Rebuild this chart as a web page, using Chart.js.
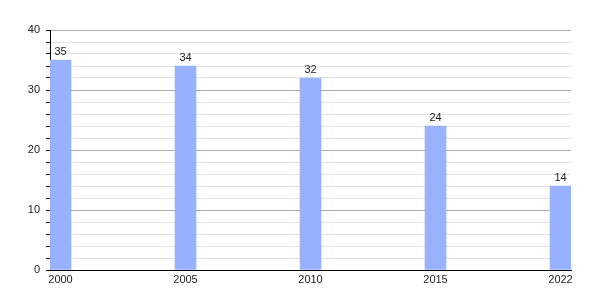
<!DOCTYPE html>
<html>
<head>
<meta charset="utf-8">
<script src="https://cdn.jsdelivr.net/npm/chart.js@4/dist/chart.umd.min.js"></script>
<style>
html,body{margin:0;padding:0;background:#fff;}
#wrap{width:600px;height:300px;}
</style>
</head>
<body>
<div id="wrap"><canvas id="c" width="600" height="300"></canvas></div>
<script>
const years = ['2000', '2005', '2010', '2015', '2022'];
const values = [35, 34, 32, 24, 14];
const yTicks = [0, 10, 20, 30, 40];

const positions = years.map((y, i) => i);

const valueLabels = {
  id: 'valueLabels',
  afterDatasetsDraw(chart) {
    const ctx = chart.ctx;
    const meta = chart.getDatasetMeta(0);
    ctx.save();
    ctx.font = '11px "Liberation Sans", Arial, sans-serif';
    ctx.fillStyle = '#222';
    ctx.textAlign = 'center';
    ctx.textBaseline = 'bottom';
    meta.data.forEach((bar, i) => {
      ctx.fillText(String(values[i]), bar.x, bar.y - 3);
    });
    ctx.restore();
  }
};

new Chart(document.getElementById('c'), {
  type: 'bar',
  data: {
    datasets: [{
      data: positions.map((p, i) => ({ x: p, y: values[i] })),
      backgroundColor: '#99b2ff',
      borderWidth: 0,
      barThickness: 21
    }]
  },
  options: {
    responsive: false,
    animation: false,
    devicePixelRatio: 1,
    layout: { padding: { top: 30, right: 29, left: 0, bottom: 0 } },
    plugins: { legend: { display: false }, tooltip: { enabled: false } },
    scales: {
      x: {
        type: 'linear',
        offset: false,
        min: -0.084,
        max: 4.084,
        afterBuildTicks: (scale) => { scale.ticks = positions.map(v => ({ value: v })); },
        afterFit: (scale) => { scale.height = 30; },
        grid: { display: false, drawTicks: false, offset: false },
        border: { display: true, color: '#000', width: 1 },
        ticks: {
          callback: (v, i) => years[i],
          font: { family: '"Liberation Sans", Arial, sans-serif', size: 11 },
          color: '#222',
          padding: 3,
          maxRotation: 0,
          autoSkip: false
        }
      },
      y: {
        min: 0,
        max: 40,
        afterFit: (scale) => { scale.width = 50; },
        ticks: {
          stepSize: 2,
          callback: (v) => (yTicks.includes(v) ? String(v) : ''),
          font: { family: '"Liberation Sans", Arial, sans-serif', size: 11 },
          color: '#222',
          padding: 6,
          autoSkip: false
        },
        grid: {
          color: (ctx) => (ctx.tick && ctx.tick.value % 10 === 0 ? '#aaaaaa' : '#e2e2e2'),
          tickColor: '#000',
          tickLength: 4,
          lineWidth: 1
        },
        border: { display: true, color: '#000', width: 1 }
      }
    }
  },
  plugins: [valueLabels]
});
</script>
</body>
</html>
